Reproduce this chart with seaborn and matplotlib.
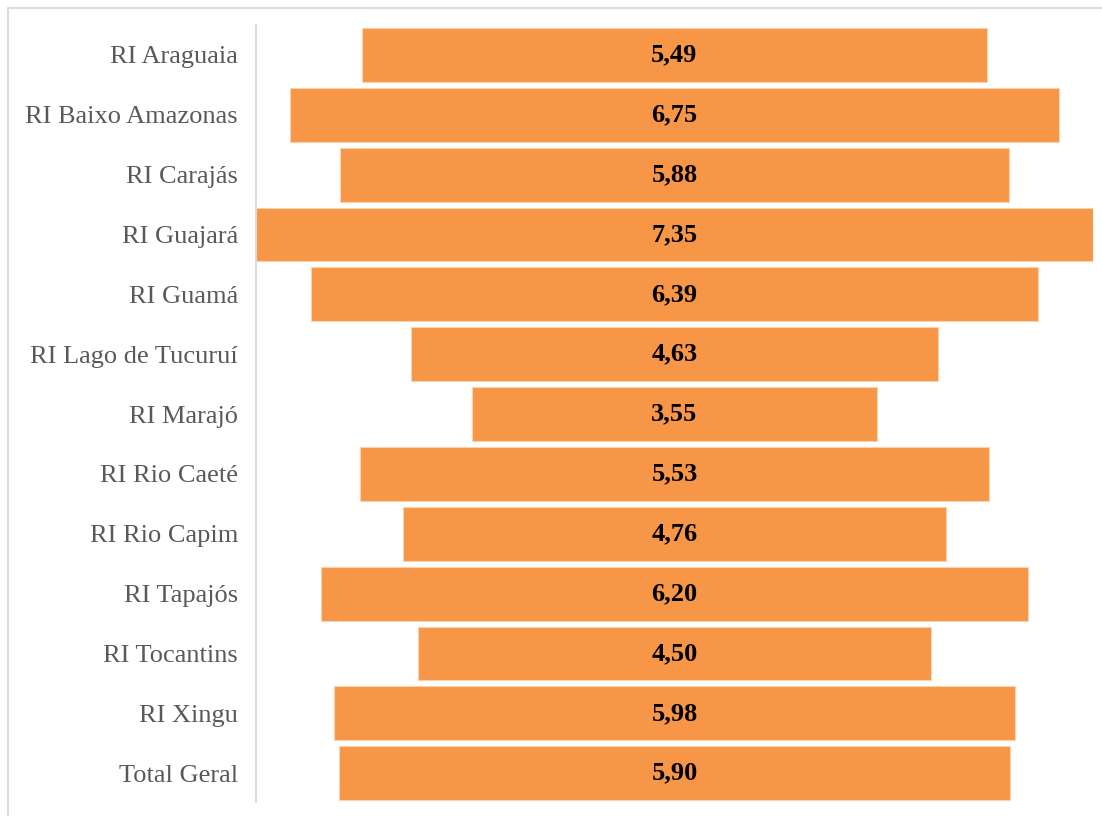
import matplotlib
matplotlib.use("Agg")
import matplotlib.pyplot as plt
import seaborn as sns
import pandas as pd
from matplotlib.patches import Rectangle

regions = [
    "RI Araguaia", "RI Baixo Amazonas", "RI Carajás", "RI Guajará", "RI Guamá",
    "RI Lago de Tucuruí", "RI Marajó", "RI Rio Caeté", "RI Rio Capim",
    "RI Tapajós", "RI Tocantins", "RI Xingu", "Total Geral",
]
values = [5.49, 6.75, 5.88, 7.35, 6.39, 4.63, 3.55, 5.53, 4.76, 6.20, 4.50, 5.98, 5.90]

df = pd.DataFrame({"regiao": regions, "valor": values})

sns.set_theme(style="white")
plt.rcParams["font.family"] = ["Liberation Serif", "DejaVu Serif"]

fig = plt.figure(figsize=(11.02, 8.16), dpi=100)
ax = fig.add_axes([256 / 1102, 1 - 802 / 816, (1093 - 256) / 1102, (802 - 25) / 816])

sns.barplot(data=df, x="valor", y="regiao", color="#F79646", saturation=1,
            width=0.9, edgecolor="#FBD2B0", linewidth=0.8, ax=ax)

# center every bar on zero to get the funnel shape
half = max(values) / 2
for patch in ax.patches:
    w = patch.get_width()
    patch.set_x(-w / 2)

for i, v in enumerate(values):
    ax.text(0, i, f"{v:.2f}".replace(".", ","), ha="center", va="center",
            fontsize=19, fontweight="bold", color="black")

ax.set_xlim(-half, half)
ax.set_ylim(12.48, -0.5)
ax.set_xlabel("")
ax.set_ylabel("")
ax.set_xticks([])
ax.tick_params(axis="y", length=0, pad=13, labelsize=19, labelcolor="#595959")

for side in ["top", "right", "bottom"]:
    ax.spines[side].set_visible(False)
ax.spines["left"].set_color("#D9D9D9")
ax.spines["left"].set_linewidth(1.3)

# chart area frame
fig.patches.append(Rectangle((7.5 / 1102, -0.01), 1.05, 1 - 8.5 / 816 + 0.01,
                             transform=fig.transFigure, fill=False,
                             edgecolor="#D9D9D9", linewidth=1.3, zorder=0))

fig.savefig("out.png", dpi=100, facecolor="white")
